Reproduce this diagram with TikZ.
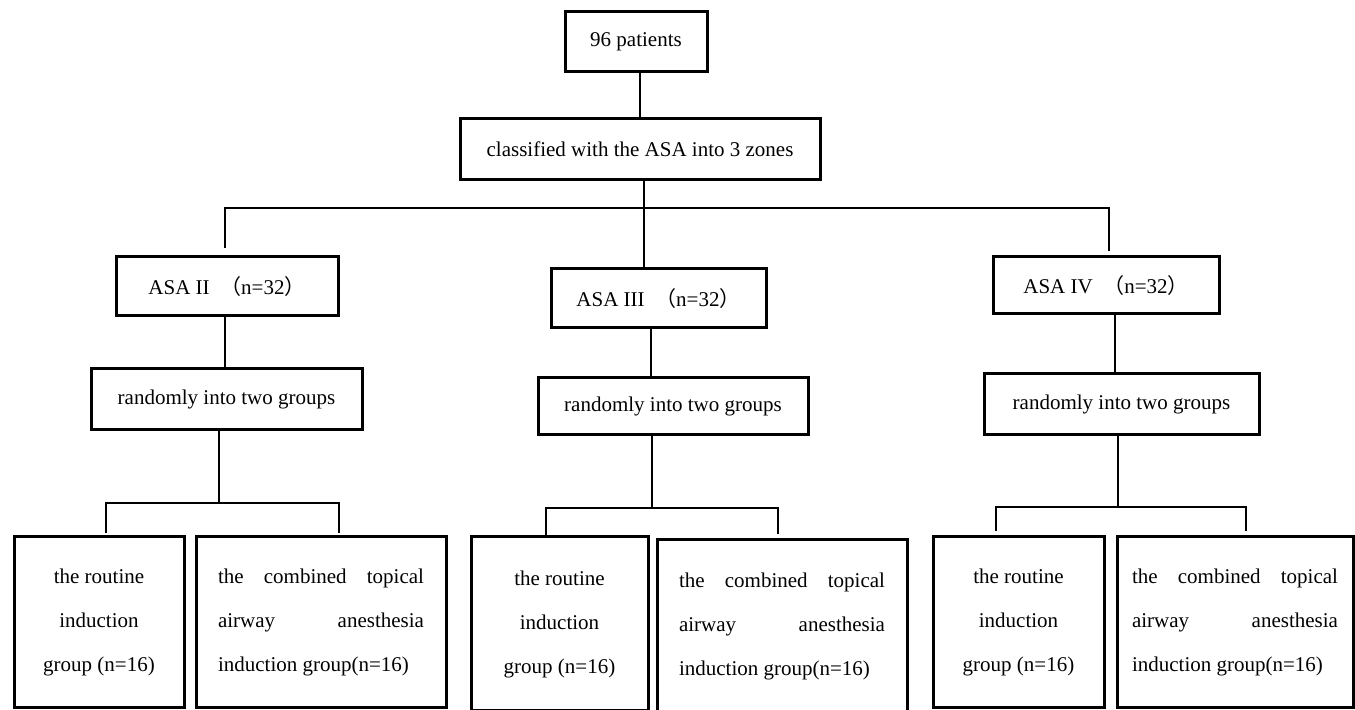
\documentclass[tikz,border=0pt]{standalone}
\usepackage{fontspec}
\setmainfont{Liberation Serif}
\newfontfamily\cjk{Noto Sans CJK SC}
\newcommand{\fp}[1]{{\cjk （}#1{\cjk ）}}
\newcommand{\jline}[1]{\makebox[103pt][s]{#1}}
\newcommand{\lline}[1]{\makebox[103pt][l]{#1}}
\begin{document}
\begin{tikzpicture}[x=0.5pt,y=-0.5pt,
  bx/.style 2 args={draw=black, line width=1.5pt, rectangle, inner sep=0pt,
     minimum width=#1*0.5pt, minimum height=#2*0.5pt, align=center,
     font=\fontsize{10.5}{22}\selectfont, text=black},
  conn/.style={draw=black, line width=1pt}]
\useasboundingbox[fill=white] (0,0) rectangle (1355,710);
% top
\node[bx={142}{60}] (p) at (636,42) {96 patients};
\node[bx={360}{61}] (cls) at (640,149.5) {classified with the ASA into 3 zones};
% ASA level
\node[bx={222}{59}] (a2) at (227,286.5) {ASA II\ \ \fp{n=32}};
\node[bx={215}{59}] (a3) at (658.5,298.5) {ASA III\ \ \fp{n=32}};
\node[bx={226}{57}] (a4) at (1106,285.5) {ASA IV\ \ \fp{n=32}};
% random level
\node[bx={271}{61}] (r1) at (226.5,399.5) {randomly into two groups};
\node[bx={270}{57}] (r2) at (673,406.5) {randomly into two groups};
\node[bx={275}{61}] (r3) at (1121.5,404.5) {randomly into two groups};
% bottom level
\node[bx={170}{171}] (b1) at (99,622.5) {the routine\\induction\\group (n=16)};
\node[bx={250}{171}] (b2) at (321,622.5) {\jline{the combined topical}\\\jline{airway anesthesia}\\\lline{induction group(n=16)}};
\node[bx={177}{174}] (b3) at (559.5,624) {the routine\\induction\\group (n=16)};
\node[bx={250}{172}] (b4) at (782,626) {\jline{the combined topical}\\\jline{airway anesthesia}\\\lline{induction group(n=16)}};
\node[bx={171}{171}] (b5) at (1018.5,622.5) {the routine\\induction\\group (n=16)};
\node[bx={236}{171}] (b6) at (1235,622.5) {\jline{the combined topical}\\\jline{airway anesthesia}\\\lline{induction group(n=16)}};
% junction coordinates
\coordinate (t2) at (225,208);
\coordinate (t3) at (644,208);
\coordinate (t4) at (1109,208);
\coordinate (v3) at (651,0);
\coordinate (v4) at (1115,0);
\coordinate (j1) at (219,503);
\coordinate (d1) at (106,503);
\coordinate (e1) at (339,503);
\coordinate (j2) at (652,508);
\coordinate (d2) at (546,508);
\coordinate (e2) at (778,508);
\coordinate (j3) at (1118,507);
\coordinate (d3) at (996,507);
\coordinate (e3) at (1246,507);
% connectors
\draw[conn] (p.south -| cls.north) -- (cls.north);
\draw[conn] (cls.south -| t3) -- (a3.north -| t3);
\draw[conn] ([yshift=3.5pt]a2.north -| t2) -- (t2) -- (t4) -- ([yshift=2pt]a4.north -| t4);
\draw[conn] (a2.south -| t2) -- (r1.north -| t2);
\draw[conn] (a3.south -| v3) -- (r2.north -| v3);
\draw[conn] (a4.south -| v4) -- (r3.north -| v4);
\draw[conn] (r1.south -| j1) -- (j1);
\draw[conn] ([yshift=1pt]b1.north -| d1) -- (d1) -- (e1) -- ([yshift=1pt]b2.north -| e1);
\draw[conn] (r2.south -| j2) -- (j2);
\draw[conn] (b3.north -| d2) -- (d2) -- (e2) -- ([yshift=2pt]b4.north -| e2);
\draw[conn] (r3.south -| j3) -- (j3);
\draw[conn] ([yshift=2pt]b5.north -| d3) -- (d3) -- (e3) -- ([yshift=2pt]b6.north -| e3);
\end{tikzpicture}
\end{document}
